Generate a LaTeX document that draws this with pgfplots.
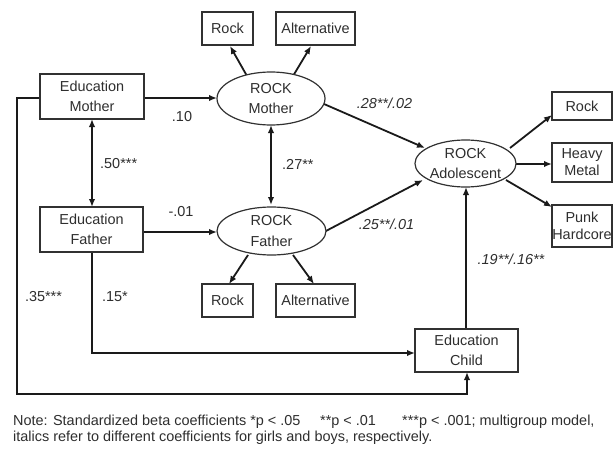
\documentclass[border=0pt]{standalone}
\usepackage{pgfplots}
\pgfplotsset{compat=1.18}
\usepackage{fontspec}
\setmainfont{Liberation Sans}
\usetikzlibrary{arrows.meta,shapes.geometric}
\definecolor{txt}{HTML}{2E2E2E}
\definecolor{ln}{HTML}{1A1A1A}
\begin{document}
\begin{tikzpicture}[
  box/.style={draw=ln!90, line width=1.2bp, inner sep=0pt, align=center, text=txt,
              font=\fontsize{14.5}{20}\selectfont},
  rbox/.style={box, font=\fontsize{14.5}{17}\selectfont},
  ell/.style={ellipse, draw=ln!90, line width=1.2bp, inner sep=0pt, align=center, text=txt,
              font=\fontsize{14.5}{21}\selectfont, fill=white},
  lab/.style={text=txt, inner sep=0pt, font=\fontsize{14.5}{16}\selectfont},
]
\begin{axis}[
  scale only axis, width=615bp, height=456bp,
  xmin=0, xmax=615, ymin=0, ymax=456, y dir=reverse,
  hide axis, ticks=none, clip=false,
]
\path (axis cs:0,0) rectangle (axis cs:615,456);
% --- arrows (pgfplots paths) ---
\pgfplotsset{arr/.style={draw=ln, line width=1.8bp, mark=none, -{Latex[length=8bp,width=6.5bp]}},
             darr/.style={draw=ln, line width=1.8bp, mark=none, {Latex[length=8bp,width=6.5bp]}-{Latex[length=8bp,width=6.5bp]}}}
\addplot[arr] coordinates {(144,98) (217,98)};
\addplot[arr] coordinates {(143,232) (217,232)};
\addplot[darr] coordinates {(92,119) (92,207)};
\addplot[darr] coordinates {(271,125) (271,205)};
\addplot[arr] coordinates {(247,76) (230,46)};
\addplot[arr] coordinates {(293,76) (311,46)};
\addplot[arr] coordinates {(248,255) (229,284)};
\addplot[arr] coordinates {(293,255) (314,284)};
\addplot[arr] coordinates {(324,104) (425,148)};
\addplot[arr] coordinates {(324,232) (423,180)};
\addplot[arr] coordinates {(510,148) (552,115)};
\addplot[arr] coordinates {(513,164) (552,164)};
\addplot[arr] coordinates {(506,180) (552,207)};
\addplot[arr] coordinates {(466,329) (466,187)};
\addplot[arr] coordinates {(92,252) (92,353) (415,353)};
\addplot[arr] coordinates {(40,98) (17,98) (17,394) (467,394) (467,372)};
% --- nodes ---
\node[box, minimum width=51bp, minimum height=33bp] at (axis cs:227.5,28.5) {Rock};
\node[box, minimum width=79bp, minimum height=33bp] at (axis cs:315.5,28.5) {Alternative};
\node[box, minimum width=104bp, minimum height=45bp] at (axis cs:92,96.5) {Education\\Mother};
\node[box, minimum width=103bp, minimum height=45bp] at (axis cs:91.5,229.5) {Education\\Father};
\node[ell, minimum width=108bp, minimum height=53bp] at (axis cs:271,98.5) {ROCK\\Mother};
\node[ell, minimum width=109bp, minimum height=48bp] at (axis cs:271.5,231) {ROCK\\Father};
\node[box, minimum width=51bp, minimum height=33bp] at (axis cs:227.5,300.5) {Rock};
\node[box, minimum width=79bp, minimum height=33bp] at (axis cs:315.5,300.5) {Alternative};
\node[ell, minimum width=95bp, minimum height=47bp] at (axis cs:465.5,163.5) {ROCK\\Adolescent};
\node[rbox, minimum width=60bp, minimum height=28bp] at (axis cs:582,106) {Rock};
\node[rbox, minimum width=60bp, minimum height=39bp] at (axis cs:582,162.5) {Heavy\\Metal};
\node[rbox, minimum width=60bp, minimum height=42bp] at (axis cs:582,226) {Punk\\Hardcore};
\node[box, minimum width=103bp, minimum height=43bp, fill=white] at (axis cs:466.5,350.5) {Education\\Child};
% --- coefficient labels ---
\node[lab] at (axis cs:182,117) {.10};
\node[lab, anchor=west] at (axis cs:100,164) {.50***};
\node[lab, anchor=west] at (axis cs:282,164) {.27**};
\node[lab, font=\fontsize{14.5}{16}\selectfont\itshape] at (axis cs:384.5,103) {.28**/.02};
\node[lab] at (axis cs:181,212) {-.01};
\node[lab, font=\fontsize{14.5}{16}\selectfont\itshape] at (axis cs:386.5,224) {.25**/.01};
\node[lab, font=\fontsize{14.5}{16}\selectfont\itshape] at (axis cs:511,259) {.19**/.16**};
\node[lab] at (axis cs:43.5,297) {.35***};
\node[lab] at (axis cs:115,297) {.15*};
% --- note ---
\node[lab, anchor=west] at (axis cs:13,422) {Note: Standardized beta coefficients *p < .05};
\node[lab, anchor=west] at (axis cs:320,422) {**p < .01};
\node[lab, anchor=west] at (axis cs:402,422) {***p < .001; multigroup model,};
\node[lab, anchor=west] at (axis cs:13,437.5) {italics refer to different coefficients for girls and boys, respectively.};
\end{axis}
\end{tikzpicture}
\end{document}
